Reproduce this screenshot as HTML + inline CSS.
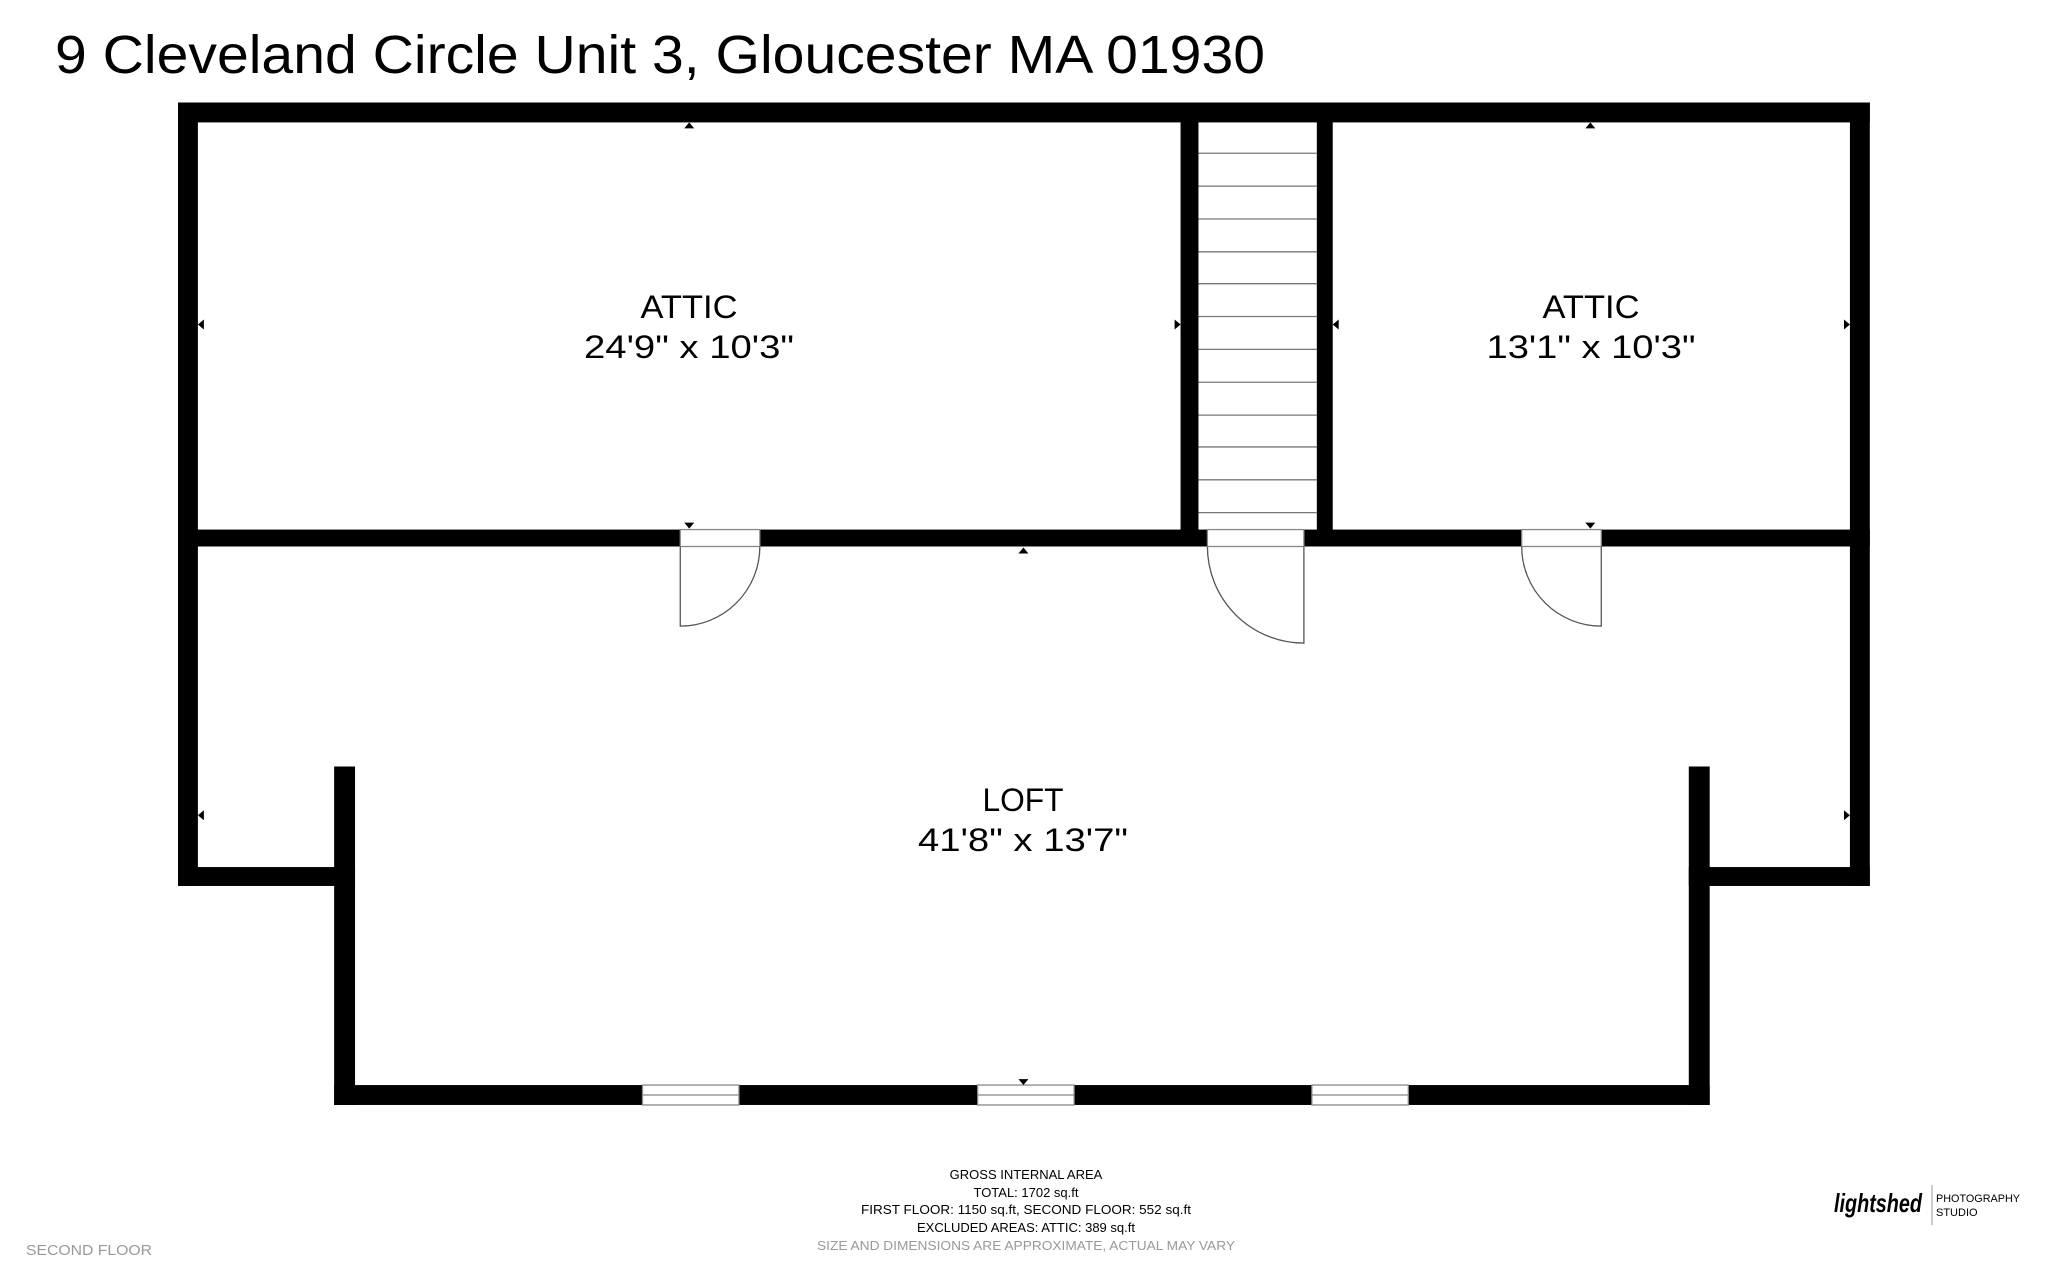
<!DOCTYPE html>
<html><head><meta charset="utf-8"><style>
html,body{margin:0;padding:0;background:#fff;width:2048px;height:1279px;overflow:hidden}
svg{display:block}
text{font-family:"Liberation Sans",sans-serif}
</style></head><body>
<svg width="2048" height="1279" viewBox="0 0 2048 1279" xmlns="http://www.w3.org/2000/svg">
<rect width="2048" height="1279" fill="#fff"/>
<text x="55" y="73" font-size="54" fill="#000" textLength="1210" lengthAdjust="spacingAndGlyphs">9 Cleveland Circle Unit 3, Gloucester MA 01930</text>
<g transform="translate(178,102.5) scale(0.9946,0.9955) translate(-178,-104)">
<g fill="#000">
<rect x="178" y="104" width="1701" height="20"/>
<rect x="178" y="104" width="20" height="787"/>
<rect x="1859" y="104" width="20" height="787"/>
<rect x="178" y="533" width="1701" height="17"/>
<rect x="1186" y="104" width="18" height="446"/>
<rect x="1323" y="104" width="16" height="446"/>
<rect x="178" y="872" width="178" height="19"/>
<rect x="335" y="771" width="21" height="340"/>
<rect x="1697" y="872" width="182" height="19"/>
<rect x="1697" y="771" width="21" height="340"/>
<rect x="335" y="1091" width="1383" height="20"/>
</g>
<g stroke="#777" stroke-width="1.3">
<line x1="1204" y1="155" x2="1323" y2="155"/><line x1="1204" y1="188" x2="1323" y2="188"/>
<line x1="1204" y1="221" x2="1323" y2="221"/><line x1="1204" y1="254" x2="1323" y2="254"/>
<line x1="1204" y1="286" x2="1323" y2="286"/><line x1="1204" y1="319" x2="1323" y2="319"/>
<line x1="1204" y1="352" x2="1323" y2="352"/><line x1="1204" y1="385" x2="1323" y2="385"/>
<line x1="1204" y1="418" x2="1323" y2="418"/><line x1="1204" y1="450" x2="1323" y2="450"/>
<line x1="1204" y1="483" x2="1323" y2="483"/><line x1="1204" y1="516" x2="1323" y2="516"/>
</g>
<g fill="#fff" stroke="#888" stroke-width="1.3">
<rect x="683" y="533" width="80" height="17"/>
<rect x="1213" y="533" width="97" height="17"/>
<rect x="1529" y="533" width="80" height="17"/>
</g>
<g fill="none" stroke="#555" stroke-width="1.3">
<path d="M683 550 V630 A80 80 0 0 0 763 550"/>
<path d="M1310 550 V647 A97 97 0 0 1 1213 550"/>
<path d="M1609 550 V630 A80 80 0 0 1 1529 550"/>
</g>
<g fill="#fff" stroke="#888" stroke-width="1.3">
<rect x="645" y="1091" width="97" height="20"/><line x1="645" y1="1101" x2="742" y2="1101"/>
<rect x="982" y="1091" width="97" height="20"/><line x1="982" y1="1101" x2="1079" y2="1101"/>
<rect x="1318" y="1091" width="97" height="20"/><line x1="1318" y1="1101" x2="1415" y2="1101"/>
</g>
<g fill="#000">
<path d="M687 130 l5 -6 l5 6z"/><path d="M1593 130 l5 -6 l5 6z"/>
<path d="M687 526 l5 6 l5 -6z"/><path d="M1593 526 l5 6 l5 -6z"/>
<path d="M1023 557 l5 -6 l5 6z"/><path d="M1023 1085 l5 6 l5 -6z"/>
<path d="M204 322 l-6 5 l6 5z"/><path d="M1180 322 l6 5 l-6 5z"/>
<path d="M1345 322 l-6 5 l6 5z"/><path d="M1853 322 l6 5 l-6 5z"/>
<path d="M204 815 l-6 5 l6 5z"/><path d="M1853 815 l6 5 l-6 5z"/>
</g>
</g>
<g font-size="32" fill="#000" text-anchor="middle">
<text x="689" y="318" textLength="97" lengthAdjust="spacingAndGlyphs">ATTIC</text>
<text x="689" y="358" textLength="210" lengthAdjust="spacingAndGlyphs">24'9" x 10'3"</text>
<text x="1591" y="318" textLength="97" lengthAdjust="spacingAndGlyphs">ATTIC</text>
<text x="1591" y="358" textLength="209" lengthAdjust="spacingAndGlyphs">13'1" x 10'3"</text>
<text x="1023" y="811" textLength="81" lengthAdjust="spacingAndGlyphs">LOFT</text>
<text x="1023" y="851" textLength="210" lengthAdjust="spacingAndGlyphs">41'8" x 13'7"</text>
</g>
<g font-size="13" fill="#000" text-anchor="middle">
<text x="1026" y="1179">GROSS INTERNAL AREA</text>
<text x="1026" y="1197">TOTAL: 1702 sq.ft</text>
<text x="1026" y="1214" textLength="330" lengthAdjust="spacingAndGlyphs">FIRST FLOOR: 1150 sq.ft, SECOND FLOOR: 552 sq.ft</text>
<text x="1026" y="1232">EXCLUDED AREAS: ATTIC: 389 sq.ft</text>
<text x="1026" y="1250" fill="#999" textLength="418" lengthAdjust="spacingAndGlyphs">SIZE AND DIMENSIONS ARE APPROXIMATE, ACTUAL MAY VARY</text>
</g>
<text x="26" y="1255" font-size="15" fill="#999" textLength="126" lengthAdjust="spacingAndGlyphs">SECOND FLOOR</text>
<text x="1834" y="1212" font-size="26" font-style="italic" font-weight="bold" font-family="Liberation Serif, serif" fill="#000" textLength="88" lengthAdjust="spacingAndGlyphs">lightshed</text>
<line x1="1932" y1="1185" x2="1932" y2="1225" stroke="#999" stroke-width="1"/>
<text x="1936" y="1202" font-size="11" fill="#000" textLength="84" lengthAdjust="spacingAndGlyphs">PHOTOGRAPHY</text>
<text x="1936" y="1216" font-size="11" fill="#000">STUDIO</text>
</svg>
</body></html>
